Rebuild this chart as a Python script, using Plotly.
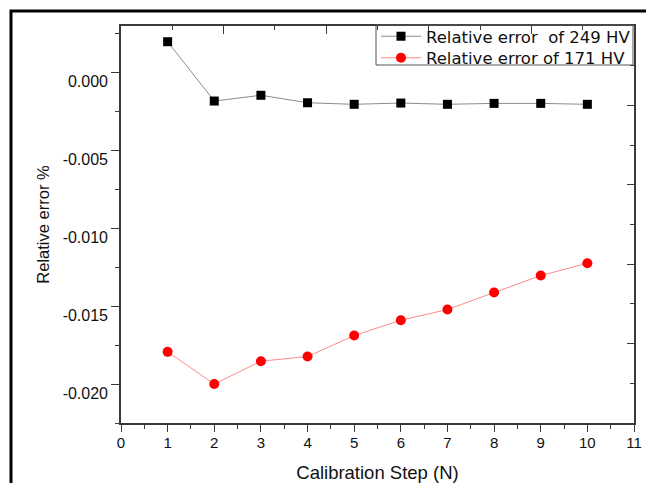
import plotly.graph_objects as go

steps = [1, 2, 3, 4, 5, 6, 7, 8, 9, 10]
err_249 = [0.00199, -0.00182, -0.00145, -0.00193, -0.00203, -0.00195, -0.00203, -0.00197, -0.00197, -0.00203]
err_171 = [-0.01793, -0.02000, -0.01853, -0.01823, -0.01688, -0.01590, -0.01521, -0.01412, -0.01303, -0.01224]
name_249 = "Relative error\u00a0 of 249 HV"
name_171 = "Relative error of 171 HV"
y_tickvals = [0.000, -0.005, -0.010, -0.015, -0.020]
y_ticktext = ["0.000", "-0.005", "-0.010", "-0.015", "-0.020"]
x_tickvals = list(range(0, 12))
x_ticktext = [str(v) for v in x_tickvals]

FONT = "Liberation Sans, Arial, sans-serif"
LFONT = "DejaVu Sans, Liberation Sans, sans-serif"
AX = "#3a3a3a"
TXT = "#111111"

# The page body has an 8px default margin, so the figure is drawn 8px in.
W, H = 646, 475
PL, PR, PT, PB = 113, 20, 18, 60     # plot area = target px 121..634 x 26..423
PW, PH = W - PL - PR, H - PT - PB


def px(xt):  # target pixel x -> paper
    return (xt - 8 - PL) / PW


def py(yt):  # target pixel y -> paper
    return 1 - (yt - 8 - PT) / PH


fig = go.Figure()
fig.add_trace(go.Scatter(
    x=steps, y=err_249, name=name_249, mode="lines+markers",
    line=dict(color="#8c8c8c", width=1),
    marker=dict(symbol="square", size=9, color="black"),
    legend="legend",
))
fig.add_trace(go.Scatter(
    x=steps, y=err_171, name=name_171, mode="lines+markers",
    line=dict(color="#ff8a8a", width=1),
    marker=dict(symbol="circle", size=10, color="#ff0000"),
    legend="legend2",
))
# invisible trace to anchor the mirrored (top/right) frame axes
fig.add_trace(go.Scatter(x=[None], y=[None], xaxis="x2", yaxis="y2",
                         showlegend=False, hoverinfo="skip"))

leg_common = dict(
    xanchor="left", yanchor="middle",
    bgcolor="rgba(0,0,0,0)", borderwidth=0,
    font=dict(size=16.5, family=LFONT, color=TXT),
    itemwidth=40,
)

fig.update_layout(
    width=W, height=H,
    margin=dict(l=PL, r=PR, t=PT, b=PB, autoexpand=False),
    paper_bgcolor="white", plot_bgcolor="white",
    font=dict(family=FONT, color=TXT),
    showlegend=True,
    legend=dict(x=px(376), y=py(36.5), **leg_common),
    legend2=dict(x=px(376), y=py(58), **leg_common),
    xaxis=dict(
        range=[0, 11], tickmode="array", tickvals=x_tickvals, ticktext=x_ticktext,
        ticks="outside", ticklen=7, tickwidth=1.3, tickcolor=AX,
        minor=dict(dtick=0.5, tick0=0, ticks="outside", ticklen=4, tickwidth=1.3, tickcolor=AX),
        showline=True, linecolor=AX, linewidth=1.6,
        showgrid=False, zeroline=False, automargin=False,
        tickfont=dict(size=15, family=FONT, color=TXT),
        ticklabelstandoff=-2,
        title=dict(text="Calibration Step (N)", font=dict(size=18.5, family=FONT, color=TXT), standoff=47),
    ),
    yaxis=dict(
        range=[-0.0225, 0.003], tickmode="array", tickvals=y_tickvals, ticktext=y_ticktext,
        ticks="outside", ticklen=8, tickwidth=1.3, tickcolor=AX,
        minor=dict(dtick=0.0025, tick0=0, ticks="outside", ticklen=4, tickwidth=1.3, tickcolor=AX),
        showline=True, linecolor=AX, linewidth=1.6,
        showgrid=False, zeroline=False, automargin=False,
        tickfont=dict(size=16, family=FONT, color=TXT),
        ticklabelshift=9, ticklabelstandoff=0,
        title=dict(text="Relative error %", font=dict(size=16.5, family=FONT, color=TXT), standoff=9),
    ),
    xaxis2=dict(
        overlaying="x", side="top", anchor="y", range=[0, 5], dtick=1, tick0=0,
        ticks="inside", ticklen=8, tickwidth=1.3, tickcolor=AX,
        minor=dict(dtick=0.5, tick0=0, ticks="inside", ticklen=4, tickwidth=1.3, tickcolor=AX),
        showticklabels=False, showline=True, linecolor=AX, linewidth=1.6,
        showgrid=False, zeroline=False, automargin=False,
    ),
    yaxis2=dict(
        overlaying="y", side="right", anchor="x", range=[0, 5], dtick=1, tick0=0,
        ticks="inside", ticklen=7, tickwidth=1.3, tickcolor=AX,
        minor=dict(dtick=0.5, tick0=0, ticks="inside", ticklen=4, tickwidth=1.3, tickcolor=AX),
        showticklabels=False, showline=True, linecolor=AX, linewidth=1.6,
        showgrid=False, zeroline=False, automargin=False,
    ),
    shapes=[
        # outer picture frame
        dict(type="rect", xref="paper", yref="paper",
             x0=px(11), x1=px(649), y0=py(500), y1=py(11),
             line=dict(color="black", width=3), fillcolor="rgba(0,0,0,0)", layer="above"),
        # legend box
        dict(type="rect", xref="paper", yref="paper",
             x0=px(376), x1=px(633), y0=py(65), y1=py(25),
             line=dict(color="#555555", width=1), fillcolor="rgba(0,0,0,0)", layer="above"),
    ],
)

fig.write_html("out.html")
